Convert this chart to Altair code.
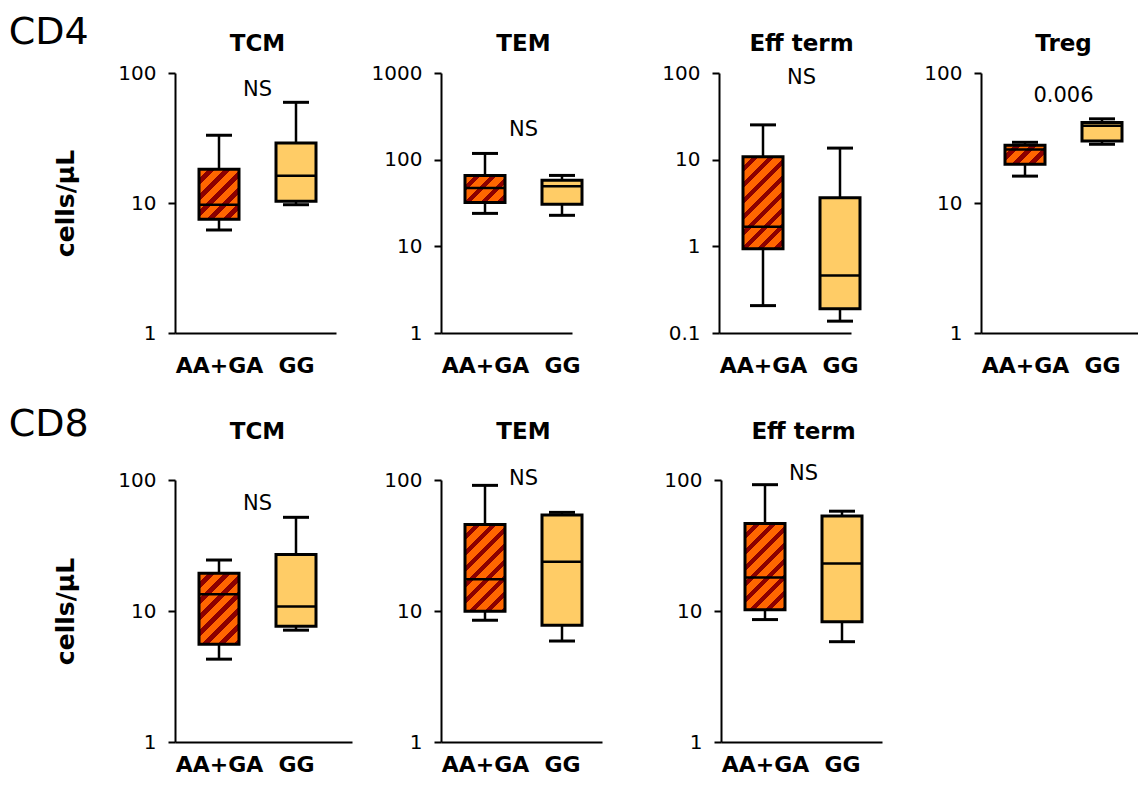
import math
import altair as alt
import pandas as pd

FONT = "DejaVu Sans"

groups = ["AA+GA", "GG"]

# five-number summaries per group: [lower whisker, Q1, median, Q3, upper whisker]  (cells/µL)
cd4_tcm_aaga = [6.2, 7.5, 9.7, 18.2, 33.2]
cd4_tcm_gg = [9.7, 10.3, 16.2, 29.0, 59.5]
cd4_tem_aaga = [24.0, 32.1, 47.1, 65.8, 118.0]
cd4_tem_gg = [22.8, 30.6, 49.2, 57.7, 65.8]
cd4_eff_aaga = [0.207, 0.94, 1.68, 10.8, 25.2]
cd4_eff_gg = [0.137, 0.19, 0.461, 3.63, 13.6]
cd4_treg_aaga = [16.1, 19.9, 25.8, 27.8, 29.3]
cd4_treg_gg = [28.3, 30.0, 39.3, 41.6, 44.4]
cd8_tcm_aaga = [4.29, 5.58, 13.4, 19.4, 24.5]
cd8_tcm_gg = [7.14, 7.66, 10.8, 27.0, 51.9]
cd8_tem_aaga = [8.5, 9.97, 17.5, 45.8, 91.0]
cd8_tem_gg = [5.9, 7.8, 23.8, 54.0, 56.6]
cd8_eff_aaga = [8.6, 10.2, 18.0, 46.5, 92.1]
cd8_eff_gg = [5.83, 8.27, 23.0, 53.0, 57.8]

panel_titles = ["TCM", "TEM", "Eff term", "Treg", "TCM", "TEM", "Eff term"]
p_texts = ["NS", "NS", "NS", "0.006", "NS", "NS", "NS"]
p_text_levels = [74, 222, 88, 67, 66, 101, 112]
y_domains = [[1, 100], [1, 1000], [0.1, 100], [1, 100], [1, 100], [1, 100], [1, 100]]
y_ticks = [[1, 10, 100], [1, 10, 100, 1000], [0.1, 1, 10, 100], [1, 10, 100],
           [1, 10, 100], [1, 10, 100], [1, 10, 100]]

# layout / style settings (not data)
BOX_W = 40
STEP = 77
FIRST = 44
ORANGE = "#FF6600"
STRIPE = "#8B0000"
LIGHT = "#FFCC66"


def hatch_fill(q1, q3, dom, plot_h):
    h = plot_h * (math.log10(q3) - math.log10(q1)) / (math.log10(dom[1]) - math.log10(dom[0]))
    w = BOX_W
    k = (w + h) / (w * w + h * h)
    n = (w + h) / 16.0
    stops = []
    j = 0
    while j < n:
        a = min(j / n, 1)
        b = min((j + 0.6) / n, 1)
        c = min((j + 1) / n, 1)
        stops += [alt.GradientStop(offset=a, color=ORANGE), alt.GradientStop(offset=b, color=ORANGE),
                  alt.GradientStop(offset=b, color=STRIPE), alt.GradientStop(offset=c, color=STRIPE)]
        j += 1
    return alt.LinearGradient(gradient="linear", stops=stops, x1=0, y1=0, x2=k * w, y2=k * h)


def panel(idx, aaga, gg, axis_len, view_w, plot_h, ytitle, title_offset, xlab_pad):
    dom = y_domains[idx]
    df = pd.DataFrame({
        "group": groups,
        "lo": [aaga[0], gg[0]],
        "q1": [aaga[1], gg[1]],
        "med": [aaga[2], gg[2]],
        "q3": [aaga[3], gg[3]],
        "hi": [aaga[4], gg[4]],
    })
    pad = (axis_len / STEP - 1) / 2
    align = FIRST / (axis_len - STEP)
    xenc = alt.X("group:N", sort=groups, title=None,
                 scale=alt.Scale(type="point", range=[0, axis_len], padding=pad, align=align),
                 axis=alt.Axis(labelAngle=0, ticks=False, domainColor="black", domainWidth=2,
                               labelFont=FONT, labelFontSize=22, labelFontWeight="bold",
                               labelColor="black", labelPadding=xlab_pad))
    ys = alt.Scale(type="log", domain=dom, nice=False)
    yax = alt.Axis(values=y_ticks[idx], format="~g", grid=False, domainColor="black", domainWidth=2,
                   tickColor="black", tickWidth=2, tickSize=7, labelFont=FONT, labelFontSize=20,
                   labelColor="black", labelPadding=12, titleFont=FONT, titleFontSize=25,
                   titleFontWeight="bold", titleColor="black", titlePadding=39)

    def Y(f):
        return alt.Y(f, scale=ys, axis=yax, title=ytitle)

    base = alt.Chart(df).encode(x=xenc)
    w_lo = base.mark_rule(color="black", strokeWidth=2.5, opacity=1).encode(y=Y("lo:Q"), y2="q1:Q")
    w_hi = base.mark_rule(color="black", strokeWidth=2.5, opacity=1).encode(y=Y("q3:Q"), y2="hi:Q")
    c_lo = base.mark_tick(color="black", size=26, thickness=3, opacity=1).encode(y=Y("lo:Q"))
    c_hi = base.mark_tick(color="black", size=26, thickness=3, opacity=1).encode(y=Y("hi:Q"))
    box_h = base.transform_filter(alt.datum.group == "AA+GA").mark_bar(
        size=BOX_W, fill=hatch_fill(aaga[1], aaga[3], dom, plot_h), stroke="black", strokeWidth=3,
        opacity=1
    ).encode(y=Y("q1:Q"), y2="q3:Q")
    box_p = base.transform_filter(alt.datum.group == "GG").mark_bar(
        size=BOX_W, fill=LIGHT, stroke="black", strokeWidth=3, opacity=1
    ).encode(y=Y("q1:Q"), y2="q3:Q")
    med = base.mark_tick(color="black", size=BOX_W, thickness=2.5, opacity=1).encode(y=Y("med:Q"))
    lab_df = pd.DataFrame({"group": [groups[0]], "level": [p_text_levels[idx]], "txt": [p_texts[idx]]})
    lab = alt.Chart(lab_df).mark_text(dx=STEP / 2, font=FONT, fontSize=21, color="black").encode(
        x=xenc, y=Y("level:Q"), text="txt:N")
    return alt.layer(w_lo, w_hi, c_lo, c_hi, box_h, box_p, med, lab).properties(
        width=view_w, height=plot_h,
        title=alt.TitleParams(text=panel_titles[idx], font=FONT, fontSize=23, fontWeight="bold",
                              color="black", frame="group", anchor="middle",
                              dx=FIRST + STEP / 2 - view_w / 2, offset=title_offset))


GAP = 100
row1 = alt.hconcat(
    panel(0, cd4_tcm_aaga, cd4_tcm_gg, 161, 166, 260, "cells/µL", 7, 22),
    panel(1, cd4_tem_aaga, cd4_tem_gg, 131, 178, 260, None, 7, 22),
    panel(2, cd4_eff_aaga, cd4_eff_gg, 132, 162, 260, None, 7, 22),
    panel(3, cd4_treg_aaga, cd4_treg_gg, 157, 150, 260, None, 7, 22),
    spacing=GAP, bounds="flush",
    title=alt.TitleParams(text="CD4", font=FONT, fontSize=38, fontWeight="normal", color="black",
                          anchor="start", dx=-45, dy=23),
)
row2 = alt.hconcat(
    panel(4, cd8_tcm_aaga, cd8_tcm_gg, 177, 166, 262, "cells/µL", 26, 12),
    panel(5, cd8_tem_aaga, cd8_tem_gg, 161, 180, 262, None, 24, 12),
    panel(6, cd8_eff_aaga, cd8_eff_gg, 161, 162, 262, None, 19, 12),
    spacing=GAP, bounds="flush",
    title=alt.TitleParams(text="CD8", font=FONT, fontSize=38, fontWeight="normal", color="black",
                          anchor="start", dx=-45, dy=27),
)

chart = alt.vconcat(row1, row2, spacing=29).properties(
    padding={"top": 6, "left": 0, "right": 0, "bottom": 0}, background="white"
).configure_view(stroke="transparent", strokeWidth=0)

chart.save("out.html", embed_options={"renderer": "svg", "actions": False})
